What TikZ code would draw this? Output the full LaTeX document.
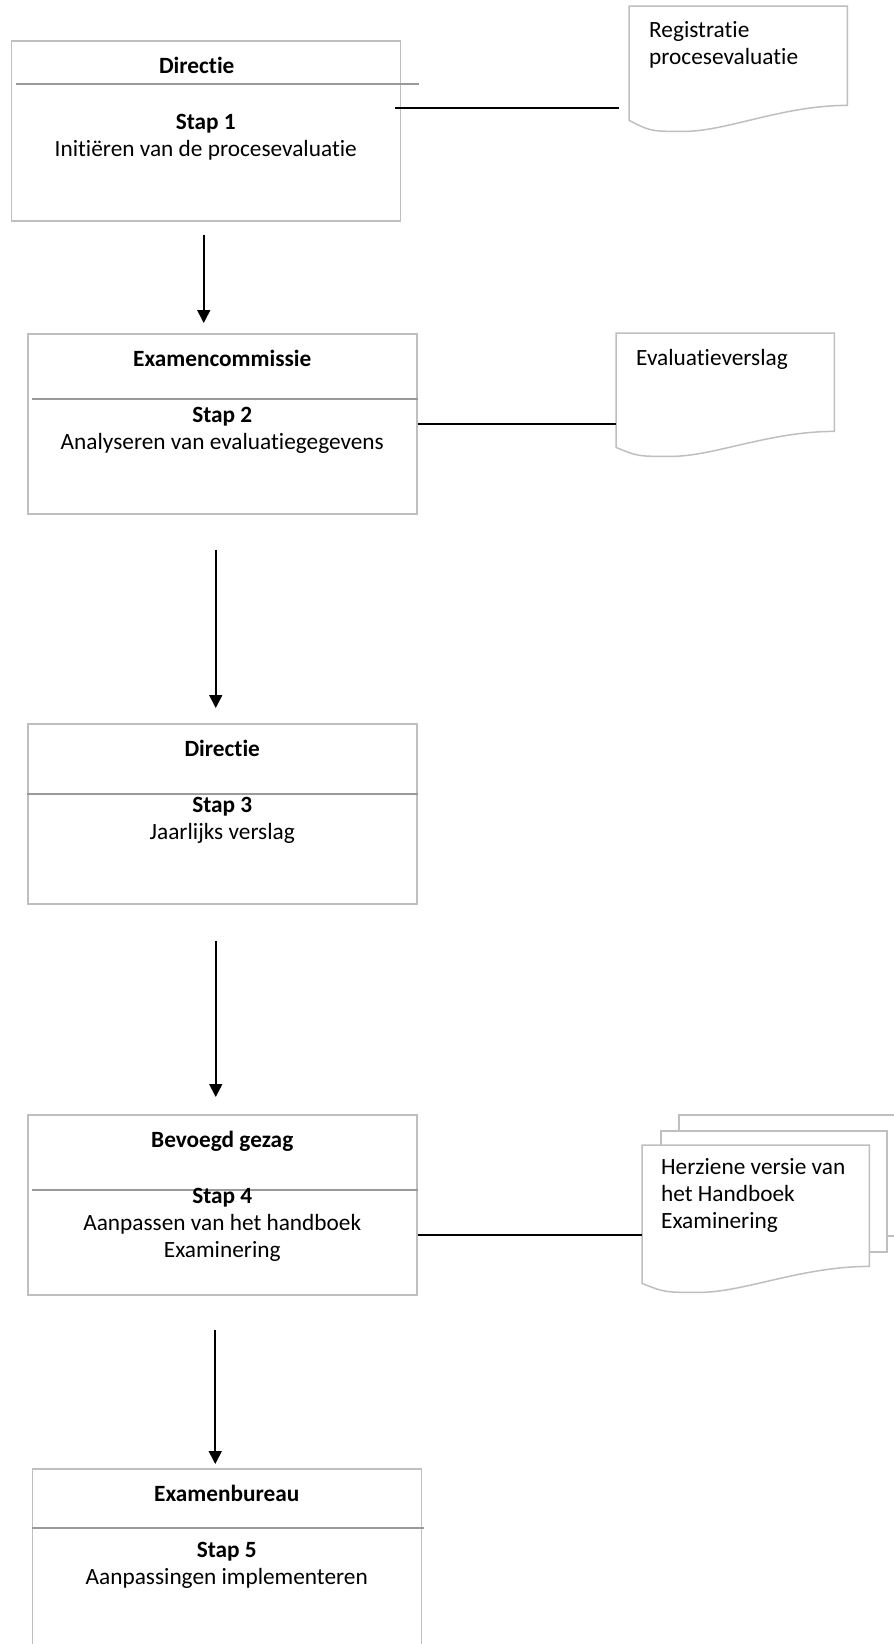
\documentclass[tikz,border=0pt]{standalone}
\usepackage{fontspec}
\setmainfont{Carlito}[Ligatures={NoCommon,NoContextual}]
\usetikzlibrary{positioning, calc, arrows.meta}

\definecolor{boxgray}{HTML}{BFBFBF}
\definecolor{linegray}{HTML}{9A9A9A}

% document shape with a wavy bottom: node, rise right, rise left
\newcommand{\docwave}[3]{%
  \draw[draw=boxgray, line width=1.5pt, fill=white]
    ([yshift=#3pt]#1.south west) -- (#1.north west) -- (#1.north east)
    -- ([yshift=#2pt]#1.south east)
    .. controls ($([yshift=#2pt]#1.south east)!0.3!([yshift=#2pt]#1.south west)$)
       and ($(#1.south west)!0.45!(#1.south east)$)
    .. ($(#1.south west)!0.25!(#1.south east)$)
    .. controls ($(#1.south west)!0.1!(#1.south east)$)
    .. ([yshift=#3pt]#1.south west) -- cycle;}

\begin{document}
\begin{tikzpicture}[
    x=1pt, y=-1pt,
    every node/.style={font=\fontsize{23.3}{27}\selectfont},
    stepbox/.style={rectangle, draw=boxgray, line width=1.5pt, fill=white, minimum width=389pt, minimum height=180pt, inner sep=0pt, anchor=north west},
    role/.style={font=\fontsize{23.3}{27}\selectfont\bfseries, inner sep=0pt, anchor=north},
    task/.style={align=center, inner sep=0pt, anchor=north},
    divider/.style={draw=linegray, line width=1.5pt},
    flow/.style={draw=black, line width=1.6pt, -{Triangle[length=13pt, width=13pt]}},
    link/.style={draw=black, line width=2pt},
    sheet/.style={rectangle, draw=boxgray, line width=1.5pt, fill=white, inner sep=0pt, anchor=north west},
    docnode/.style={rectangle, draw=none, inner sep=0pt, anchor=north west},
    doctext/.style={align=left, inner sep=0pt, anchor=north west}
]
\useasboundingbox[fill=white] (0,0) rectangle (894,1644);

% stappen
\node[stepbox] (b1) at (10.5,40) {};
\node[stepbox] (b2) at (27,333) {};
\node[stepbox] (b3) at (27,723) {};
\node[stepbox] (b4) at (27,1114) {};
\node[stepbox] (b5) at (31.5,1468) {};

\draw[divider] ([xshift=5.5pt,yshift=-44pt]b1.north west) -- ([xshift=18pt,yshift=-44pt]b1.north east);
\draw[divider] ([xshift=5pt,yshift=-66pt]b2.north west) -- ([yshift=-66pt]b2.north east);
\draw[divider] ([yshift=-71pt]b3.north west) -- ([yshift=-71pt]b3.north east);
\draw[divider] ([xshift=5pt,yshift=-76pt]b4.north west) -- ([yshift=-76pt]b4.north east);
\draw[divider] ([yshift=-60pt]b5.north west) -- ([xshift=2pt,yshift=-60pt]b5.north east);

\node[role] (r1) at ([xshift=-9pt,yshift=-17pt]b1.north) {Directie};
\node[role] (r2) at ([yshift=-17pt]b2.north) {Examencommissie};
\node[role] (r3) at ([yshift=-17pt]b3.north) {Directie};
\node[role] (r4) at ([yshift=-17pt]b4.north) {Bevoegd gezag};
\node[role] (r5) at ([yshift=-17pt]b5.north) {Examenbureau};

\node[task] (s1) at ([yshift=-74pt]b1.north) {\textbf{Stap 1}\\Initiëren van de procesevaluatie};
\node[task] (s2) at ([yshift=-74pt]b2.north) {\textbf{Stap 2}\\Analyseren van evaluatiegegevens};
\node[task] (s3) at ([yshift=-74pt]b3.north) {\textbf{Stap 3}\\Jaarlijks verslag};
\node[task] (s4) at ([yshift=-74pt]b4.north) {\textbf{Stap 4}\\Aanpassen van het handboek\\Examinering};
\node[task] (s5) at ([yshift=-74pt]b5.north) {\textbf{Stap 5}\\Aanpassingen implementeren};

% pijlen
\coordinate (a1) at ([xshift=-2pt]b1.south);
\coordinate (a2) at ([xshift=-6.5pt]b2.south);
\coordinate (a3) at ([xshift=-6.5pt]b3.south);
\coordinate (a4) at ([xshift=-7pt]b4.south);
\draw[flow, shorten <=13pt, shorten >=10pt] (a1) -- (a1 |- b2.north);
\draw[flow, shorten <=35pt, shorten >=15pt] (a2) -- (a2 |- b3.north);
\draw[flow, shorten <=36pt, shorten >=17pt] (a3) -- (a3 |- b4.north);
\draw[flow, shorten <=34pt, shorten >=4pt] (a4) -- (a4 |- b5.north);

% documenten
\node[docnode, minimum width=218pt, minimum height=125pt] (reg) at (629,6) {};
\docwave{reg}{26}{11}
\node[doctext] (regtxt) at ([xshift=20pt,yshift=-15pt]reg.north west) {Registratie\\procesevaluatie};

\node[docnode, minimum width=218pt, minimum height=123pt] (evv) at (616,333) {};
\docwave{evv}{25}{9}
\node[doctext] (evvtxt) at ([xshift=20pt,yshift=-16pt]evv.north west) {Evaluatieverslag};

\node[sheet, minimum width=230pt, minimum height=121pt] (hb3) at (678,1114) {};
\node[sheet, minimum width=226pt, minimum height=121pt] (hb2) at (660,1130) {};
\node[docnode, minimum width=227pt, minimum height=147pt] (hb) at (642,1145) {};
\docwave{hb}{26}{9}
\node[doctext] (hbtxt) at ([xshift=19pt,yshift=-13pt]hb.north west) {Herziene versie van\\het Handboek\\Examinering};

% verbindingen
\coordinate (c1a) at ($(b1.east)+(-6,-23)$);
\coordinate (c1b) at ($(reg.west)+(-10,0)$);
\draw[link] (c1a) -- (c1a -| c1b);
\draw[link] (b2.east) -- (b2.east -| evv.west);
\coordinate (c4a) at ([yshift=-30pt]b4.east);
\draw[link] (c4a) -- (c4a -| hb.west);

\end{tikzpicture}
\end{document}
